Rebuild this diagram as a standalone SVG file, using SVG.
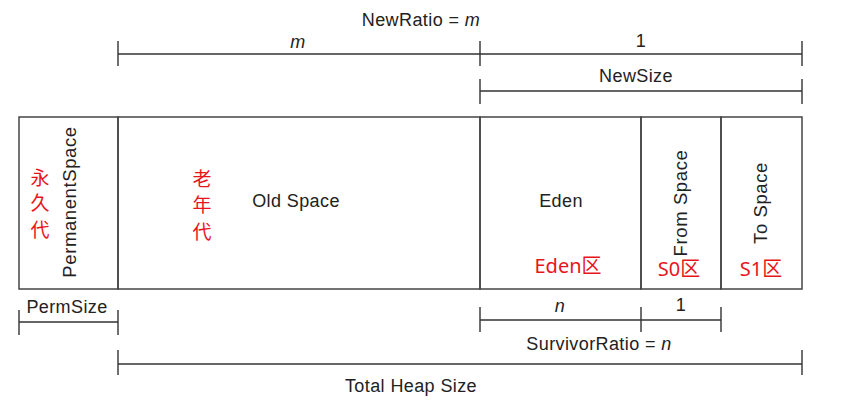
<svg xmlns="http://www.w3.org/2000/svg" width="842" height="407" viewBox="0 0 842 407">
<style>
.t{font-family:"Liberation Sans",Arial,sans-serif;font-size:18px;letter-spacing:0.4px;fill:#222;text-anchor:middle}
.v{font-size:18.5px;letter-spacing:0.6px}
.r{font-family:"Noto Sans","Noto Sans CJK SC",sans-serif;font-size:20px;fill:#e8141c;text-anchor:middle}
.rc{font-family:"Noto Sans CJK SC",sans-serif;font-size:19px;fill:#e8141c;text-anchor:middle}
.i{font-style:italic}
.b{fill:none;stroke:#444;stroke-width:1.5}
.d{stroke:#333;stroke-width:1.4;fill:none}
</style>
<rect width="842" height="407" fill="#fff"/>
<g id="connectors">
<path class="d" d="M118 54H802M118 41V66M480 41V66M802 41V66"/>
<path class="d" d="M480 91H802M480 79V104M802 79V104"/>
<path class="d" d="M19 322H118M19 310V335M118 310V335"/>
<path class="d" d="M480 320H721M480 307V332M641 307V332M721 307V332"/>
<path class="d" d="M118 364H802M118 350V375M802 350V375"/>
</g>
<g id="labels">
<text class="t" x="421" y="26">NewRatio = <tspan class="i">m</tspan></text>
<text class="t i" x="298" y="48">m</text>
<text class="t" x="641" y="47">1</text>
<text class="t" x="636" y="82">NewSize</text>
<text class="t" x="67" y="313">PermSize</text>
<text class="t i" x="560" y="312">n</text>
<text class="t" x="681" y="311">1</text>
<text class="t" x="599" y="350">SurvivorRatio = <tspan class="i">n</tspan></text>
<text class="t" x="411" y="392">Total Heap Size</text>
</g>
<g id="perm">
<rect class="b" x="19" y="117" width="99" height="172"/>
<text class="t v" transform="translate(76,202) rotate(-90)">PermanentSpace</text>
<text class="rc" x="40" y="185">永</text>
<text class="rc" x="40" y="210">久</text>
<text class="rc" x="40" y="237">代</text>
</g>
<g id="old">
<rect class="b" x="118" y="117" width="362" height="172"/>
<text class="t" x="296" y="207">Old Space</text>
<text class="rc" x="202" y="186">老</text>
<text class="rc" x="202" y="212">年</text>
<text class="rc" x="202" y="239">代</text>
</g>
<g id="eden">
<rect class="b" x="480" y="117" width="161" height="172"/>
<text class="t" x="561" y="207">Eden</text>
<text class="r" x="568" y="273">Eden区</text>
</g>
<g id="from">
<rect class="b" x="641" y="117" width="80" height="172"/>
<text class="t v" transform="translate(687,203) rotate(-90)">From Space</text>
<text class="r" x="679" y="276">S0区</text>
</g>
<g id="to">
<rect class="b" x="721" y="117" width="81" height="172"/>
<text class="t v" transform="translate(767,203) rotate(-90)">To Space</text>
<text class="r" x="761" y="276">S1区</text>
</g>
</svg>
